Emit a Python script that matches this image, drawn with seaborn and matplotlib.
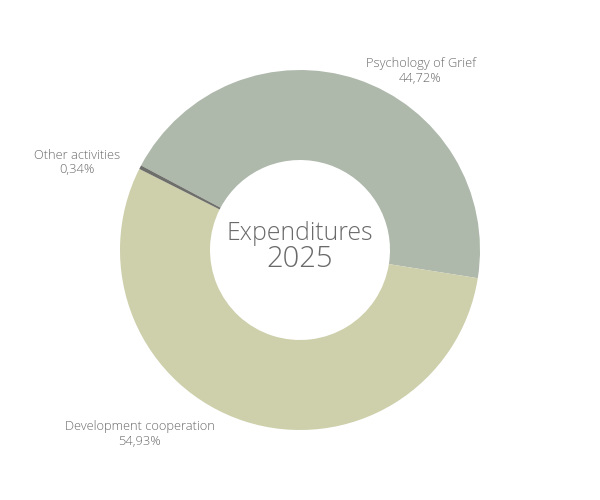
import matplotlib
matplotlib.use("Agg")
import matplotlib.pyplot as plt
import seaborn as sns

sns.set_theme(style="white")
plt.rcParams['font.family'] = ['Open Sans', 'DejaVu Sans']

# dati
categories = ['Psychology of Grief', 'Development cooperation', 'Other activities']
shares = [44.72, 54.93, 0.34]
share_labels = ['44,72%', '54,93%', '0,34%']
colors = ['#aeb8ab', '#cecfab', '#6e6e6a']

# posizioni delle etichette (in unità di raggio)
label_pos = [(0.67, 0.995), (-0.89, -1.022), (-1.24, 0.486)]

fig = plt.figure(figsize=(6, 5), dpi=100)
ax = fig.add_axes([0, 0, 1, 1])

ax.pie(shares, colors=colors, startangle=152, counterclock=False,
       wedgeprops=dict(width=0.5, linewidth=0))

for name, lab, (x, y) in zip(categories, share_labels, label_pos):
    ax.text(x, y, name + '\n' + lab, ha='center', va='center',
            fontsize=9.3, color='#6a6a6a', linespacing=1.15, fontweight='light')

ax.text(0, 0.09, 'Expenditures', ha='center', va='center', fontsize=17.8,
        color='#6a6a6a', fontweight='light')
ax.text(0, -0.05, '2025', ha='center', va='center', fontsize=21,
        color='#6a6a6a', fontweight='light')

ax.set_xlim(-300 / 180, 300 / 180)
ax.set_ylim(-250 / 180, 250 / 180)
ax.set_aspect('equal')
ax.axis('off')

fig.savefig('out.png', dpi=100)
